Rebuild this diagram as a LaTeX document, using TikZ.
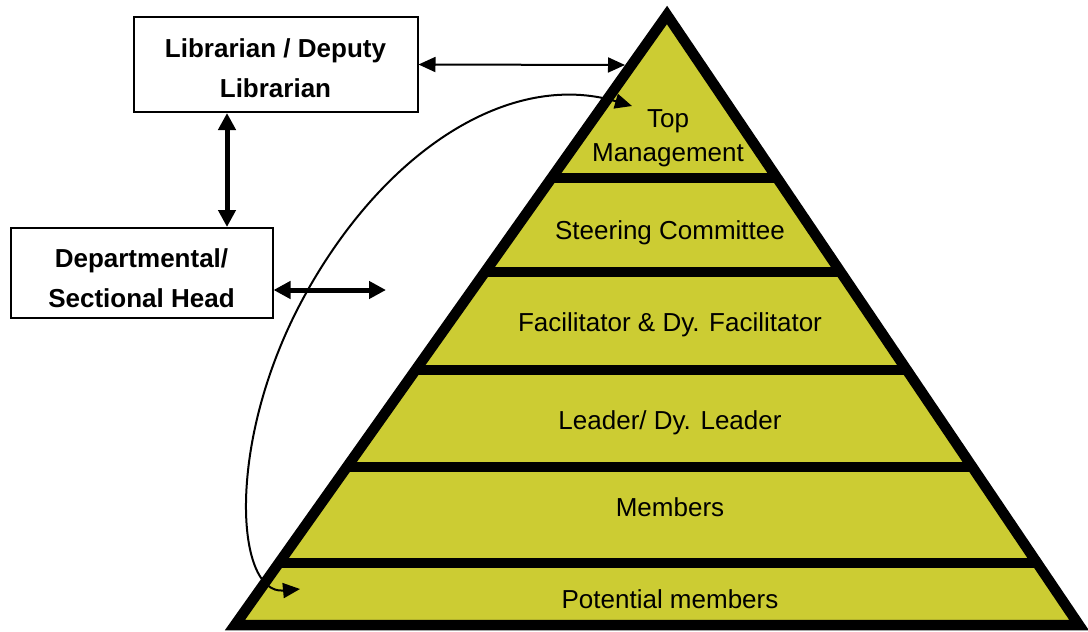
\documentclass[tikz,border=0pt]{standalone}
\usepackage{fontspec}
\setmainfont{Liberation Sans}
\usetikzlibrary{arrows.meta}
\definecolor{pyrfill}{RGB}{204,204,51}
\begin{document}
\begin{tikzpicture}[x=1pt,y=-1pt,
        box/.style={draw=black,line width=2pt,fill=white,align=center,inner sep=0pt,
            font=\fontsize{26}{40}\selectfont\bfseries},
        band/.style={font=\fontsize{26}{34}\selectfont,align=center},
        thin arrow/.style={line width=2pt,
            {Triangle[length=17pt,width=15pt]}-{Triangle[length=17pt,width=15pt]}},
        thick arrow/.style={line width=5pt,
            {Triangle[length=17pt,width=17pt]}-{Triangle[length=17pt,width=17pt]}}]
    \useasboundingbox (0,0) rectangle (1088,632);
    % pyramid
    \coordinate (apex) at (667,15);
    \coordinate (bl) at (235,625);
    \coordinate (br) at (1079,625);
    \fill [pyrfill] (apex) -- (bl) -- (br) -- cycle;
    \begin{scope}
        \clip (apex) -- (bl) -- (br) -- cycle;
        \foreach \y in {178,272,370,467,563}
            \draw [line width=10pt] (200,\y) -- (1100,\y);
    \end{scope}
    \draw [line width=10.5pt,line join=miter] (apex) -- (bl) -- (br) -- cycle;
    \node [band] (top) at (668,138) {Top\\Management};
    \node [band] (steer) at (670,233) {Steering Committee};
    \node [band] (facil) at (670,325) {Facilitator \& Dy. Facilitator};
    \node [band] (leader) at (670,423) {Leader/ Dy. Leader};
    \node [band] (members) at (670,507) {Members};
    \node [band] (potential) at (670,599) {Potential members};
    % boxes
    \node [box,minimum width=284pt,minimum height=95pt] (lib) at (275.5,64.5)
        {\rule{0pt}{27pt}Librarian / Deputy\\Librarian};
    \node [box,minimum width=262pt,minimum height=90pt] (dept) at (141.5,273)
        {\rule{0pt}{29pt}Departmental/\\Sectional Head};
    % arrows
    \coordinate (pyrleft) at (625,65);
    \draw [thin arrow] (lib.east) -- (pyrleft);
    \draw [thick arrow] ([xshift=-48.5pt]lib.south) -- ([xshift=85.5pt]dept.north);
    \coordinate (depttip) at (386,290);
    \draw [thick arrow] (dept.east |- depttip) -- (depttip);
    \coordinate (topin) at (632,106);
    \coordinate (botin) at (300,589);
    \draw [thin arrow] (botin) .. controls (235,595) and (225,440) .. (305,295)
        .. controls (385,150) and (510,70) .. (topin);
\end{tikzpicture}
\end{document}
